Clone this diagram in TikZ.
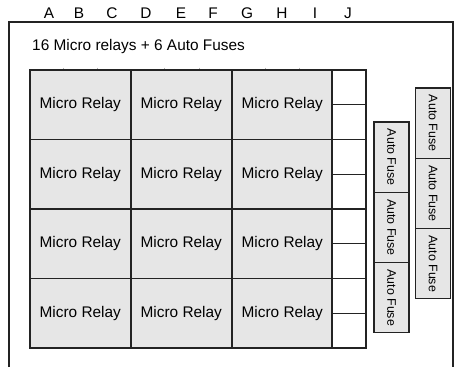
\documentclass[tikz,border=0pt]{standalone}
\usepackage{fontspec}
\setmainfont{Liberation Sans}
\definecolor{boxgray}{RGB}{230,230,230}
\definecolor{linegray}{RGB}{35,35,35}
\begin{document}
\begin{tikzpicture}[x=1pt,y=-1pt,
  relay/.style={draw=linegray,line width=1.6pt,fill=boxgray,inner sep=0pt,outer sep=0pt,
     minimum width=101pt,minimum height=69.5pt,font=\fontsize{15.4}{18}\selectfont},
  jcell/.style={draw=linegray,line width=1.3pt,fill=white,inner sep=0pt,outer sep=0pt,
     minimum width=34pt,minimum height=34.75pt},
  fuse/.style={draw=linegray,line width=1.1pt,fill=boxgray,inner sep=0pt,outer sep=0pt,
     minimum width=35pt,minimum height=70.3pt,font=\fontsize{12.4}{14}\selectfont},
  fusetext/.style={rotate=-90,inner sep=0pt,font=\fontsize{12.4}{14}\selectfont},
  letter/.style={font=\fontsize{15.4}{18}\selectfont,inner sep=0pt},
  tick/.style={draw=gray!60,line width=0.6pt}]
\useasboundingbox (0,0) rectangle (457,367);
% outer frame (open at bottom)
\coordinate (fbl) at (9,367);
\coordinate (ftl) at (9,22);
\coordinate (ftr) at (453,22);
\coordinate (fbr) at (453,367);
\draw[linegray,line width=1.3pt] (fbl) -- (ftl) -- (ftr) -- (fbr);
% column letters
\foreach \l/\x in {A/49,B/79,C/112,D/146,E/181,F/213,G/247,H/282,I/315,J/348}
  \node[letter] (col\l) at (\x,13) {\l};
% title
\node[letter,anchor=west] (title) at (32,47) {16 Micro relays + 6 Auto Fuses};
% faint ticks above grid
\foreach \x [count=\i] in {63,97,164,199,265,299}
  {\coordinate (ta\i) at (\x,67.5); \coordinate (tb\i) at (\x,70);
   \draw[tick] (ta\i) -- (tb\i);}
% relays
\foreach \r in {0,1,2,3}{
  \foreach \c in {0,1,2}{
    \node[relay] (r\r\c) at ({80.25+101*\c},{104.75+69.5*\r}) {Micro Relay};
  }
  \node[jcell] (j\r a) at (349,{87.375+69.5*\r}) {};
  \node[jcell] (j\r b) at (349,{122.125+69.5*\r}) {};
}
% auto fuses, column 1
\foreach \k in {0,1,2}{
  \node[fuse] (fa\k) at (391.5,{157.15+70.3*\k}) {};
  \node[fusetext] at (fa\k) {Auto Fuse};
}
% auto fuses, column 2
\foreach \k in {0,1,2}{
  \node[fuse] (fb\k) at (433,{123.15+70.3*\k}) {};
  \node[fusetext] at (fb\k) {Auto Fuse};
}
\end{tikzpicture}
\end{document}
